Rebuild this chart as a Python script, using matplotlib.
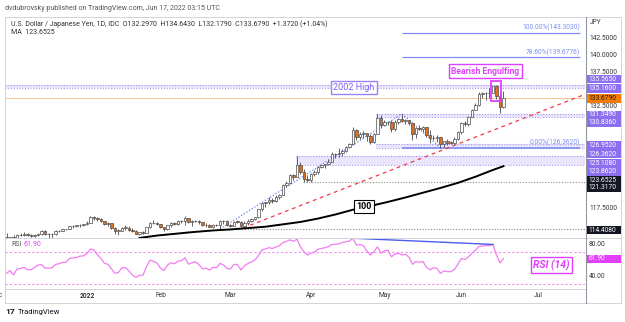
import matplotlib
matplotlib.use("Agg")
import matplotlib.pyplot as plt
from matplotlib.patches import Rectangle
from matplotlib.lines import Line2D
import numpy as np
import pandas as pd

plt.rcParams['font.family'] = ['Roboto', 'DejaVu Sans']

W, H = 625, 322

# USD/JPY daily bars, 1 Dec 2021 .. 17 Jun 2022 (open = previous close)
dates = pd.bdate_range('2021-12-01', '2022-06-17')
first_open = 113.17
close = [112.80, 113.18, 112.79, 113.47, 113.53, 113.71, 113.48, 113.41, 113.56, 113.73, 114.05, 113.71,
         113.70, 113.63, 114.08, 114.10, 114.39, 114.37, 114.82, 114.84, 114.96, 115.07, 115.08,
         115.35, 116.12, 116.05, 115.85, 115.56, 115.20, 115.29, 114.63, 114.18, 114.18, 114.59, 114.60,
         114.30, 114.08, 113.68, 113.98, 113.87, 114.68, 115.34, 115.25, 115.12,
         114.69, 114.38, 114.97, 115.24, 115.10, 115.55, 115.57, 116.02, 115.42, 115.58, 115.66, 115.46,
         114.94, 114.99, 114.73, 115.06, 114.99, 115.53, 115.56, 114.98,
         114.88, 115.49, 115.47, 114.83, 115.32, 115.66, 115.85, 116.13, 117.29, 118.18, 118.32, 118.73,
         118.60, 119.15, 119.46, 120.85, 121.16, 122.37, 122.06, 123.88, 122.84, 121.82, 121.69,
         122.52, 122.77, 123.59, 123.76, 123.96, 124.34, 125.37, 125.40, 125.59, 125.91, 126.43, 126.97,
         128.90, 127.88, 128.42, 128.50, 128.15, 127.24, 128.40, 130.80, 129.75,
         130.17, 130.16, 129.09, 130.22, 130.56, 130.27, 130.42, 129.93, 128.32, 129.25, 129.16, 129.38,
         128.23, 127.77, 127.86, 127.90, 126.86, 127.32, 127.12, 127.11, 127.61, 128.69,
         130.07, 129.89, 130.87, 131.88, 132.63, 134.25, 134.38, 134.41, 134.42, 135.46, 133.90, 132.297,
         133.679]
high = [113.87, 113.30, 113.50, 113.62, 113.80, 113.95, 113.80, 113.70, 113.63, 113.80, 114.27, 114.21,
        113.85, 113.80, 114.20, 114.30, 114.43, 114.45, 114.88, 114.96, 115.04, 115.14, 115.20,
        115.52, 116.35, 116.27, 116.20, 116.05, 115.60, 115.44, 115.34, 114.70, 114.48, 114.69, 115.06,
        114.79, 114.50, 114.20, 114.02, 114.10, 114.72, 115.48, 115.69, 115.50,
        115.15, 114.78, 115.03, 115.42, 115.37, 115.69, 115.70, 116.34, 116.08, 115.70, 115.78, 115.79,
        115.50, 115.23, 115.11, 115.22, 115.14, 115.75, 115.75, 115.78,
        115.21, 115.57, 115.81, 115.52, 115.55, 115.84, 116.05, 116.22, 117.35, 118.34, 118.45, 119.13,
        118.96, 119.41, 119.53, 121.03, 121.40, 122.43, 122.44, 125.108, 124.31, 123.19, 122.41,
        122.69, 123.05, 123.67, 123.97, 124.04, 124.69, 125.77, 125.62, 126.31, 126.12, 126.68, 127.02,
        129.41, 129.19, 128.67, 128.85, 128.50, 128.38, 128.60, 131.26, 131.25,
        130.40, 130.26, 130.37, 130.45, 130.80, 131.349, 130.60, 130.43, 130.06, 129.43, 129.70, 129.55,
        129.46, 128.93, 128.30, 128.26, 127.94, 127.40, 127.64, 127.37, 127.93, 128.89,
        130.15, 130.23, 130.98, 132.00, 133.01, 134.49, 134.56, 134.63, 135.19, 135.45, 135.565, 134.67,
        134.643]
low = [112.74, 112.53, 112.55, 112.75, 113.37, 113.35, 113.35, 113.25, 113.28, 113.44, 113.60, 113.53,
       113.14, 113.15, 113.58, 113.90, 114.05, 114.29, 114.37, 114.60, 114.69, 114.78, 114.90,
       114.95, 115.30, 115.68, 115.65, 115.47, 115.05, 114.92, 114.44, 113.72, 113.48, 114.15, 114.34,
       114.18, 113.96, 113.62, 113.47, 113.72, 113.79, 114.56, 115.08, 114.93,
       114.59, 114.15, 114.31, 114.70, 114.93, 115.05, 115.30, 115.00, 115.30, 114.92, 115.37, 115.18,
       114.87, 114.76, 114.70, 114.49, 114.87, 114.408, 115.19, 114.87,
       114.65, 114.87, 115.30, 114.65, 114.82, 115.04, 115.50, 115.68, 116.10, 117.08, 117.70, 118.05,
       118.23, 118.44, 118.85, 119.45, 120.64, 121.08, 121.62, 122.05, 122.48, 121.317, 121.28,
       121.28, 122.15, 122.46, 123.40, 123.39, 123.87, 124.30, 124.87, 125.00, 125.09, 125.81, 126.27,
       126.93, 127.55, 127.64, 127.84, 127.40, 126.95, 127.03, 128.40, 129.31,
       129.62, 129.76, 128.62, 128.82, 129.80, 130.13, 129.80, 129.64, 127.52, 127.86, 128.93, 128.70,
       128.00, 127.02, 127.48, 127.16, 126.362, 126.54, 126.84, 126.85, 126.93, 127.53,
       128.43, 129.53, 129.54, 130.84, 131.84, 132.46, 133.65, 133.38, 133.62, 134.35, 133.50, 131.50,
       132.179]
rsi = [43.4, 47.0, 41.3, 49.0, 49.7, 51.0, 48.0, 48.0, 51.0, 53.9, 54.5, 50.0, 50.0, 50.6, 54.8, 55.5,
       57.3, 57.5, 62.4, 63.0, 63.5, 65.3, 65.5,
       68.7, 74.2, 73.0, 67.0, 62.4, 56.0, 55.0, 49.0, 43.4, 44.5, 50.6, 50.5, 46.5, 41.0, 38.3, 41.0,
       41.0, 52.0, 60.2, 58.5, 56.5,
       50.0, 47.0, 53.9, 57.0, 55.5, 59.0, 59.5, 63.2, 55.0, 57.0, 58.0, 54.5, 49.0, 50.0, 47.6, 51.0,
       50.5, 56.0, 54.0, 49.6,
       49.0, 54.8, 54.5, 47.6, 53.0, 56.0, 58.0, 60.5, 66.0, 73.0, 74.5, 76.0, 75.0, 77.0, 78.5, 82.5,
       84.0, 86.0, 84.0, 86.8, 77.0, 70.8, 66.6,
       69.0, 70.5, 74.0, 75.0, 76.0, 77.5, 80.0, 80.3, 81.0, 82.6, 83.5, 84.5, 88.0, 79.2, 80.0, 78.4,
       71.6, 66.6, 71.0, 77.1, 69.0,
       72.0, 72.9, 64.4, 68.0, 68.7, 67.0, 67.5, 64.0, 54.8, 58.5, 57.3, 58.5, 51.0, 48.0, 50.5, 49.7,
       43.4, 46.5, 45.5, 45.5, 48.5, 55.0,
       62.4, 61.0, 64.4, 69.0, 72.9, 77.5, 78.4, 78.5, 78.6, 80.1, 66.6, 56.8, 61.9]

# 100-day simple moving average (weekly readings)
ma_dates = ['2022-01-24', '2022-01-31', '2022-02-07', '2022-02-14', '2022-02-22', '2022-03-01',
            '2022-03-08', '2022-03-15', '2022-03-22', '2022-03-29', '2022-04-05', '2022-04-12',
            '2022-04-19', '2022-04-26', '2022-05-03', '2022-05-10', '2022-05-17', '2022-05-24',
            '2022-05-31', '2022-06-07', '2022-06-14', '2022-06-17']
ma_vals = [113.1, 113.45, 113.7, 113.95, 114.2, 114.35, 114.55, 114.75, 115.1, 115.45, 115.95, 116.55,
           117.25, 117.8, 118.4, 119.05, 119.75, 120.45, 121.2, 122.1, 123.1, 123.6525]

# drawn levels: pairs form shaded zones
zone_lo = [135.16, 130.836, 126.362, 123.862]
zone_hi = [135.565, 131.349, 126.952, 125.108]
zone_from = ['2021-12-01', '2022-04-28', '2022-04-28', '2022-03-28']
grey_levels = [121.317, 114.408]
grey_from = ['2022-03-30', '2022-03-03']

fib_names = ['100.00%', '78.60%', '0.00%']
fib_prices = [143.303, 139.6776, 126.362]

PURPLE = '#8b6ff0'
LEVEL = '#a598f2'
FIB = '#7d8df0'
ORANGE = '#e0701a'
MAGENTA = '#e040fb'
RSICOL = '#f27cf2'

fig = plt.figure(figsize=(W / 100, H / 100), dpi=100)
fig.patch.set_facecolor('white')


def fx(x):
    return x / W


def fy(y):
    return 1 - y / H


XMAX = 165.3
ax = fig.add_axes([fx(5), fy(238), 580 / W, 221 / H])
axr = fig.add_axes([fx(5), fy(289), 580 / W, 51 / H])
for a in (ax, axr):
    a.set_xlim(-0.43, XMAX)
    a.set_xticks([])
    a.set_yticks([])
    for s in a.spines.values():
        s.set_visible(False)
ax.set_ylim(113.09, 145.59)
axr.set_ylim(23.5, 88.3)


def idx(d):
    return dates.get_loc(pd.Timestamp(d))


opens = [first_open] + close[:-1]

# candles
for i in range(len(dates)):
    o, c = opens[i], close[i]
    ax.vlines(i, min(low[i], o, c), max(high[i], o, c), color='#4a4a4a', lw=0.6, zorder=4)
    ax.add_patch(Rectangle((i - 0.33, min(o, c)), 0.66, max(abs(c - o), 0.05),
                           fc='white' if c >= o else ORANGE, ec='#4a4a4a', lw=0.5, zorder=5))

# zones and levels
for lo, hi, d in zip(zone_lo, zone_hi, zone_from):
    x0 = max(idx(d) - 0.4, -0.43)
    ax.fill_between([x0, XMAX], lo, hi, color='#e2dafc', alpha=0.7, lw=0, zorder=1)
    ax.hlines([lo, hi], x0, XMAX, colors=LEVEL, linestyles=(0, (1, 1.5)), lw=0.8, zorder=2)
for p, d in zip(grey_levels, grey_from):
    ax.hlines(p, idx(d) - 0.4, XMAX, colors='#8a8a8a', linestyles=(0, (1, 1.5)), lw=0.8, zorder=2)
ax.axhline(close[-1], color='#f7c590', lw=0.7, zorder=1)

# fibonacci lines from the May 9 high
f0 = idx('2022-05-09')
for name, p in zip(fib_names, fib_prices):
    ax.hlines(p, f0, 163.9, colors=FIB, lw=1.2 if p == fib_prices[-1] else 0.9, zorder=3)
    ax.text(163.9, p + 0.15, f'{name}({p:.4f})', color=FIB, fontsize=4.8, ha='right', va='bottom')

# trendlines
tl = [idx('2022-02-24'), idx('2022-05-09'), idx('2022-05-24')]
ax.plot(tl, [low[tl[0]], high[tl[1]], low[tl[2]]], color='#6f80ee', lw=0.9, ls=(0, (1, 1.5)), zorder=3)
ax.plot([67.6, 164.7], [114.56, 134.1], color='#f23645', lw=0.9, ls=(0, (3, 3)), zorder=3)

# 100 MA
ma_x = [idx(d) for d in ma_dates]
ax.plot(ma_x, ma_vals, color='black', lw=1.4, zorder=6)

# bearish engulfing box
ax.add_patch(Rectangle((138.3, 133.3), 3.0, 2.88, fc='none', ec=MAGENTA, lw=1.3, zorder=7))

# RSI pane
axr.plot(np.arange(len(rsi)), rsi, color=RSICOL, lw=0.9, zorder=3)
for lvl in (70, 30):
    axr.axhline(lvl, color='#f48cf4', lw=0.8, ls=(0, (2, 2)), zorder=1)
r0, r1 = idx('2022-04-19'), idx('2022-06-14')
axr.plot([r0, r1], [rsi[r0], rsi[r1]], color='#4a5ee8', lw=1.0, zorder=4)


def ppx(a, v):
    return H - a.transData.transform((0, v))[1]


# frame
def fline(x0, y0, x1, y1, c='#d1d4dc', lw=0.7):
    fig.add_artist(Line2D([fx(x0), fx(x1)], [fy(y0), fy(y1)], color=c, lw=lw))


fline(5, 16.5, 621, 16.5)
fline(5, 302.5, 621, 302.5)
fline(5, 16.5, 5, 302.5)
fline(621, 16.5, 621, 302.5)
fline(5, 238, 621, 238)
fline(5, 289, 585, 289)
fline(585.5, 16.5, 585.5, 302.5, c='#9598a1', lw=0.8)


def tag(yc, text, fc, tc='white'):
    fig.add_artist(Rectangle((fx(586.5), fy(yc + 4.2)), 34.5 / W, 8.4 / H, transform=fig.transFigure,
                             fc=fc, ec='none', zorder=5))
    fig.text(fx(588.5), fy(yc), text, fontsize=4.8, color=tc, va='center', zorder=6)


# offsets (px) keep the tags apart like the TradingView scale does
tags = [(135.565, PURPLE, -5.9), (135.16, PURPLE, 0.4), (close[-1], '#f57c00', 0.7),
        (131.349, PURPLE, 0.9), (130.836, PURPLE, 5.4), (126.952, PURPLE, 1.7), (126.362, PURPLE, 6.4),
        (125.108, PURPLE, 6.8), (123.862, PURPLE, 6.6), (ma_vals[-1], '#131722', 14.2),
        (121.317, '#131722', 5.3), (114.408, '#131722', 1.0)]
tag_y = [ppx(ax, p) + off for p, col, off in tags]

# price scale (ticks hidden under a tag are skipped)
fig.text(fx(590), fy(22.5), 'JPY', fontsize=4.8, color='#333333', va='center')
for p in np.arange(115, 145, 2.5):
    yp = ppx(ax, p)
    if min(abs(yp - t) for t in tag_y) < 6.5:
        continue
    fig.text(fx(589), fy(yp), f'{p:.4f}', fontsize=4.8, color='#333333', va='center', zorder=3)

for (p, col, off), yt in zip(tags, tag_y):
    tag(yt, f'{p:.4f}', col, '#1a1a1a' if col == '#f57c00' else 'white')

for v in (80, 40):
    fig.text(fx(589), fy(ppx(axr, v)), f'{v:.2f}', fontsize=4.8, color='#333333', va='center')
tag(ppx(axr, rsi[-1]), f'{rsi[-1]:.2f}', MAGENTA)

# date axis
months = [('Dec', -2.7), ('2022', idx('2022-01-03')), ('Feb', idx('2022-02-01')), ('Mar', idx('2022-03-01')),
          ('Apr', idx('2022-04-01')), ('May', idx('2022-05-02')), ('Jun', idx('2022-06-01')),
          ('Jul', idx('2022-06-17') + 10)]
for lab, xi in months:
    xp = ax.transData.transform((xi, 0))[0]
    fig.text(xp / W, fy(295.5), lab, fontsize=4.8, color='#333333', ha='center', va='center',
             fontweight='bold' if lab == '2022' else 'normal')

# header
fig.text(fx(5), fy(8.5), 'dvdubrovsky published on TradingView.com, Jun 17, 2022 03:15 UTC',
         fontsize=5, color='#555555', va='center')
fig.text(fx(11), fy(24), 'U.S. Dollar / Japanese Yen, 1D, IDC  O132.2970  H134.6430  L132.1790  '
         'C133.6790  +1.3720 (+1.04%)', fontsize=5, color='#333333', va='center')
fig.text(fx(11), fy(32.5), 'MA  123.6525', fontsize=5, color='#333333', va='center')
fig.text(fx(11), fy(245), 'RSI', fontsize=5, color='#555555', va='center')
fig.text(fx(23), fy(245), f'{rsi[-1]:.2f}', fontsize=5, color=MAGENTA, va='center')

# annotations
fig.text(fx(354), fy(87.5), '2002 High', fontsize=6.5, color='#7b5cf0', ha='center', va='center',
         zorder=8, bbox=dict(boxstyle='square,pad=0.25', fc='white', ec='#9a84f5', lw=1))
fig.text(fx(485.5), fy(71), 'Bearish Engulfing', fontsize=6.2, fontweight='bold', color=MAGENTA,
         ha='center', va='center', zorder=8,
         bbox=dict(boxstyle='square,pad=0.25', fc='white', ec=MAGENTA, lw=1))
fig.text(fx(364), fy(206.5), '100', fontsize=6.5, fontweight='bold', color='black', ha='center',
         va='center', zorder=8, bbox=dict(boxstyle='square,pad=0.25', fc='white', ec='black', lw=0.8))
fig.text(fx(551.5), fy(265), 'RSI (14)', fontsize=7.5, fontweight='bold', fontstyle='italic',
         color=MAGENTA, ha='center', va='center', zorder=8,
         bbox=dict(boxstyle='square,pad=0.2', fc='white', ec=MAGENTA, lw=1))

# logo
fig.text(fx(5), fy(312), '17', fontsize=6, fontweight='bold', color='#131722', va='center')
fig.text(fx(18), fy(312), 'TradingView', fontsize=5.5, color='#131722', va='center')

fig.savefig('out.png', dpi=100)
